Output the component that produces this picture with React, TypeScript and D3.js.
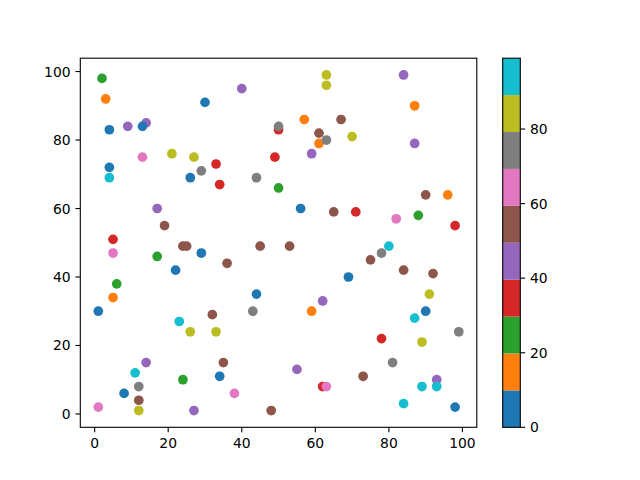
import React from "react";
import * as d3 from "d3";

// data values (x, y, colour value)
const xs = [2, 3, 40, 30, 4, 9, 14, 13, 50, 50, 13, 21, 27, 33, 49, 4, 4, 29, 26, 44, 34, 50, 17, 19,
  63, 63, 84, 87, 57, 67, 61, 61, 63, 70, 87, 59, 56, 65, 71, 90, 96, 82, 88, 98,
  5, 5, 24, 25, 45, 17, 29, 36, 22, 6, 5, 44, 1, 43, 32, 23, 26, 33, 14, 35, 11, 34, 24, 12, 8, 38, 12, 1, 12, 27, 48,
  53, 78, 80, 75, 84, 92, 69, 91, 62, 59, 90, 87, 99, 78, 89, 55, 81, 73, 93, 62, 63, 89, 93, 84, 98];
const ys = [98, 92, 95, 91, 83, 84, 85, 84, 83, 84, 75, 76, 75, 73, 75, 72, 69, 71, 69, 69, 67, 66, 60, 55,
  99, 96, 99, 90, 86, 86, 82, 79, 80, 81, 79, 76, 60, 59, 59, 64, 64, 57, 58, 55,
  51, 47, 49, 49, 49, 46, 47, 44, 42, 38, 34, 35, 30, 30, 29, 27, 24, 24, 15, 15, 12, 11, 10, 8, 6, 6, 4, 2, 1, 1, 1,
  49, 47, 49, 45, 42, 41, 40, 35, 33, 30, 30, 28, 24, 22, 21, 13, 15, 11, 10, 8, 8, 8, 8, 3, 2];
const cs = [24, 14, 44, 4, 4, 44, 44, 4, 34, 74, 64, 84, 84, 34, 34, 4, 94, 74, 4, 74, 34, 24, 44, 54,
  84, 84, 44, 14, 14, 54, 54, 14, 74, 84, 44, 44, 4, 54, 34, 54, 14, 64, 24, 34,
  34, 64, 54, 54, 54, 24, 4, 54, 4, 24, 14, 4, 4, 74, 54, 94, 84, 84, 44, 54, 94, 4, 24, 74, 4, 64, 54, 64, 84, 44, 54,
  54, 74, 94, 54, 54, 54, 4, 84, 44, 14, 4, 94, 74, 34, 84, 44, 74, 54, 44, 34, 64, 94, 94, 94, 4];

const xTicks = [0, 20, 40, 60, 80, 100];
const yTicks = [0, 20, 40, 60, 80, 100];
const cbTicks = [0, 20, 40, 60, 80];
const cLimits = [0, 99];
const palette = ["#1f77b4", "#ff7f0e", "#2ca02c", "#d62728", "#9467bd", "#8c564b", "#e377c2", "#7f7f7f", "#bcbd22", "#17becf"];

export default function App() {
  const L = 80.3, R = 476.8, T = 58.2, B = 427.3;
  const cbL = 502.7, cbR = 520.3;
  const x = d3.scaleLinear().domain([-3.9, 103.9]).range([L, R]);
  const y = d3.scaleLinear().domain([-3.9, 103.9]).range([B, T]);
  const cy = d3.scaleLinear().domain(cLimits).range([B, T]);
  const nBins = palette.length;
  const color = (c: number) => {
    const i = Math.min(nBins - 1, Math.floor(((c - cLimits[0]) / (cLimits[1] - cLimits[0])) * nBins));
    return palette[i];
  };
  const binEdges = d3.range(nBins + 1).map((i) => cLimits[0] + (i * (cLimits[1] - cLimits[0])) / nBins);
  const tick = 4.86;
  const font = "DejaVu Sans, sans-serif";
  const fs = 13.9;
  return (
    <svg width={640} height={480} style={{ position: "absolute", left: 0, top: 0, background: "#fff" }}
      fontFamily={font} fontSize={fs}>
      <rect x={0} y={0} width={640} height={480} fill="#fff" />
      {xs.map((xv, i) => (
        <circle key={i} cx={x(xv)} cy={y(ys[i])} r={4.86} fill={color(cs[i])} />
      ))}
      <rect x={L} y={T} width={R - L} height={B - T} fill="none" stroke="#000" strokeWidth={1.1} />
      {xTicks.map((t) => (
        <g key={"x" + t}>
          <line x1={x(t)} x2={x(t)} y1={B} y2={B + tick} stroke="#000" strokeWidth={1.1} />
          <text x={x(t)} y={B + tick + 4.86} dy="0.76em" textAnchor="middle">{t}</text>
        </g>
      ))}
      {yTicks.map((t) => (
        <g key={"y" + t}>
          <line x1={L - tick} x2={L} y1={y(t)} y2={y(t)} stroke="#000" strokeWidth={1.1} />
          <text x={L - tick - 4.86} y={y(t)} dy="0.36em" textAnchor="end">{t}</text>
        </g>
      ))}
      {palette.map((p, i) => (
        <rect key={"cb" + i} x={cbL} width={cbR - cbL} y={cy(binEdges[i + 1])}
          height={cy(binEdges[i]) - cy(binEdges[i + 1])} fill={p} />
      ))}
      <rect x={cbL} y={T} width={cbR - cbL} height={B - T} fill="none" stroke="#000" strokeWidth={1.1} />
      {cbTicks.map((t) => (
        <g key={"c" + t}>
          <line x1={cbR} x2={cbR + tick} y1={cy(t)} y2={cy(t)} stroke="#000" strokeWidth={1.1} />
          <text x={cbR + tick + 4.86} y={cy(t)} dy="0.36em" textAnchor="start">{t}</text>
        </g>
      ))}
    </svg>
  );
}
